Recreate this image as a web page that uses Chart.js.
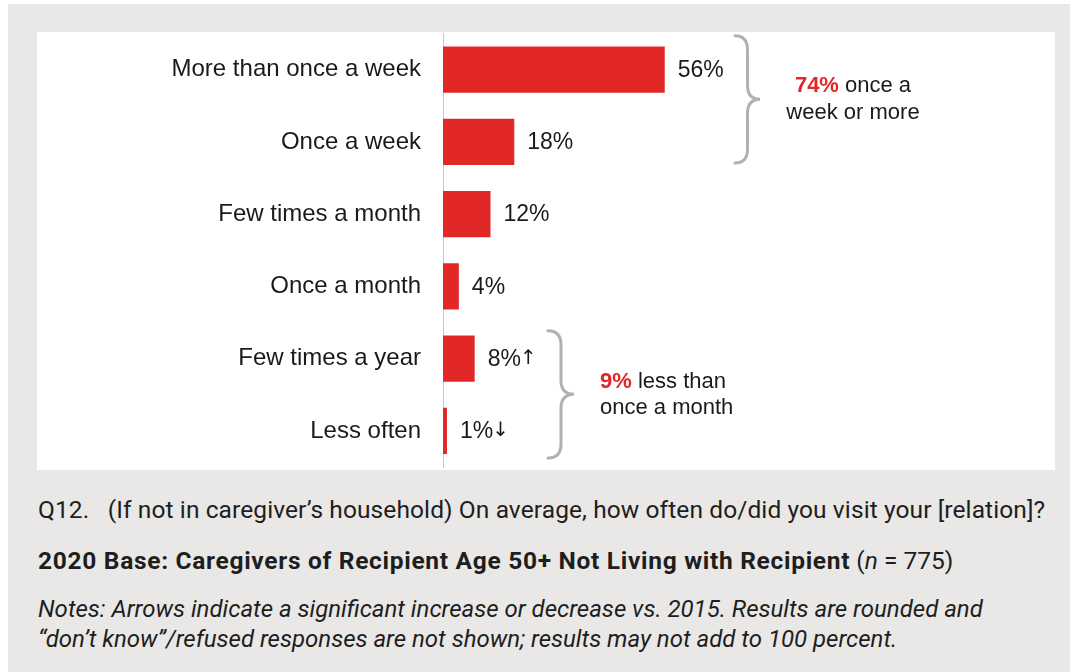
<!DOCTYPE html>
<html>
<head>
<meta charset="utf-8">
<script src="https://cdn.jsdelivr.net/npm/chart.js@4"></script>
<style>
  html, body { margin: 0; padding: 0; background: #fff; }
  body { width: 1070px; height: 672px; position: relative; overflow: hidden; }
  #frame { position: absolute; left: 8px; top: 4px; width: 1062px; height: 668px; background: #e9e8e6; }
  #panel { position: absolute; left: 37px; top: 32px; width: 1018px; height: 438px; background: #fff; }
  #visits { position: absolute; left: 0; top: 0; }
  .foot { position: absolute; left: 38px; font-family: Roboto, "Liberation Sans", sans-serif; font-size: 24.5px; color: #1e1e1e; white-space: pre; line-height: 30px; }
  #q { top: 495px; letter-spacing: 0.1px; }
  #base { top: 546px; }
  #base b { font-weight: 700; letter-spacing: 0.7px; }
  #notes { top: 594px; font-style: italic; font-size: 24px; }
</style>
</head>
<body>
<div id="frame"></div>
<div id="panel"><canvas id="visits" width="1018" height="438"></canvas></div>
<div class="foot" id="q">Q12.   (If not in caregiver’s household) On average, how often do/did you visit your [relation]?</div>
<div class="foot" id="base"><b>2020 Base: Caregivers of Recipient Age 50+ Not Living with Recipient</b> (<i>n</i> = 775)</div>
<div class="foot" id="notes">Notes: Arrows indicate a significant increase or decrease vs. 2015. Results are rounded and
“don’t know”/refused responses are not shown; results may not add to 100 percent.</div>
<script>
// visit frequency, 2020
const categories = ["More than once a week", "Once a week", "Few times a month", "Once a month", "Few times a year", "Less often"];
const shares = [56, 18, 12, 4, 8, 1];
const changeArrows = ["", "", "", "", "↑", "↓"];

// bracketed groups: first..last category index plus caption text
const groups = [
  { first: 0, last: 1, caption: ["once a", "week or more"] },
  { first: 4, last: 5, caption: ["less than", "once a month"] }
];

const RED = "#e22826";
const INK = "#1a1a1a";
const BRACE = "#b4b0ac";
const SANS = '"Liberation Sans", Arial, sans-serif';

function drawBrace(ctx, x, top, bottom, w) {
  const mid = (top + bottom) / 2;
  const r = 14;
  const xm = x + w / 2;
  ctx.beginPath();
  ctx.moveTo(x, top);
  ctx.quadraticCurveTo(xm, top, xm, top + r);
  ctx.lineTo(xm, mid - r);
  ctx.quadraticCurveTo(xm, mid, x + w, mid);
  ctx.quadraticCurveTo(xm, mid, xm, mid + r);
  ctx.lineTo(xm, bottom - r);
  ctx.quadraticCurveTo(xm, bottom, x, bottom);
  ctx.stroke();
}

function groupTotal(g) {
  return shares.slice(g.first, g.last + 1).reduce((a, b) => a + b, 0);
}

const annotations = {
  id: "annotations",
  afterDatasetsDraw(chart) {
    const ctx = chart.ctx;
    const xs = chart.scales.x;
    const ys = chart.scales.y;
    ctx.save();
    ctx.textBaseline = "middle";
    ctx.textAlign = "left";
    ctx.fillStyle = INK;

    // value labels, with change arrow after the percent sign
    shares.forEach((v, i) => {
      const x = xs.getPixelForValue(v) + 13;
      const y = ys.getPixelForValue(i) + 1;
      const txt = v + "%";
      ctx.font = "23px " + SANS;
      ctx.fillText(txt, x, y);
      if (changeArrows[i]) {
        const w = ctx.measureText(txt).width;
        ctx.font = "20px 'DejaVu Sans', sans-serif";
        ctx.fillText(changeArrows[i], x + w - 1, y - 1);
      }
    });

    ctx.strokeStyle = BRACE;
    ctx.lineWidth = 3;
    ctx.lineCap = "round";
    const left = chart.chartArea.left;

    // weekly group: brace right of the long bar, caption centred
    const g0 = groups[0];
    const b0top = ys.getPixelForValue(g0.first) - 34;
    const b0bot = ys.getPixelForValue(g0.last) + 21;
    drawBrace(ctx, left + 292, b0top, b0bot, 25);
    const cx = left + 410;
    const cy = (b0top + b0bot) / 2;
    ctx.font = "bold 22px " + SANS;
    const head = groupTotal(g0) + "% ";
    const hw = ctx.measureText(head).width;
    ctx.font = "22px " + SANS;
    const rw = ctx.measureText(g0.caption[0]).width;
    const sx = cx - (hw + rw) / 2;
    ctx.font = "bold 22px " + SANS;
    ctx.fillStyle = RED;
    ctx.fillText(head, sx, cy - 13);
    ctx.font = "22px " + SANS;
    ctx.fillStyle = INK;
    ctx.fillText(g0.caption[0], sx + hw, cy - 13);
    ctx.textAlign = "center";
    ctx.fillText(g0.caption[1], cx, cy + 14);

    // rare group: brace near the axis, caption left-aligned
    const g1 = groups[1];
    const b1top = ys.getPixelForValue(g1.first) - 28;
    const b1bot = ys.getPixelForValue(g1.last) + 27;
    drawBrace(ctx, left + 105, b1top, b1bot, 26);
    const lx = left + 157;
    const ly = (b1top + b1bot) / 2;
    ctx.textAlign = "left";
    ctx.font = "bold 22px " + SANS;
    const head1 = groupTotal(g1) + "% ";
    const hw1 = ctx.measureText(head1).width;
    ctx.fillStyle = RED;
    ctx.fillText(head1, lx, ly - 12);
    ctx.font = "22px " + SANS;
    ctx.fillStyle = INK;
    ctx.fillText(g1.caption[0], lx + hw1, ly - 12);
    ctx.fillText(g1.caption[1], lx, ly + 14);
    ctx.restore();
  }
};

new Chart(document.getElementById("visits"), {
  type: "bar",
  data: {
    labels: categories,
    datasets: [{
      data: shares,
      backgroundColor: RED,
      borderWidth: 0,
      barPercentage: 0.8,
      categoryPercentage: 0.8
    }]
  },
  options: {
    indexAxis: "y",
    responsive: false,
    animation: false,
    devicePixelRatio: 1,
    layout: { padding: { top: 1.5, bottom: 3, left: 0, right: 216 } },
    plugins: { legend: { display: false }, tooltip: { enabled: false } },
    scales: {
      x: { display: false, min: 0, max: 100 },
      y: {
        grid: { display: false, drawTicks: false },
        border: { display: true, color: "#c8c8c8", width: 1 },
        ticks: { color: INK, font: { family: SANS, size: 24 }, padding: 22 },
        afterFit(scale) {
          // fixed label column; tick padding should not shrink the plot vertically
          scale.width = 406;
          scale.paddingTop = 0;
          scale.paddingBottom = 0;
        }
      }
    }
  },
  plugins: [annotations]
});
</script>
</body>
</html>
